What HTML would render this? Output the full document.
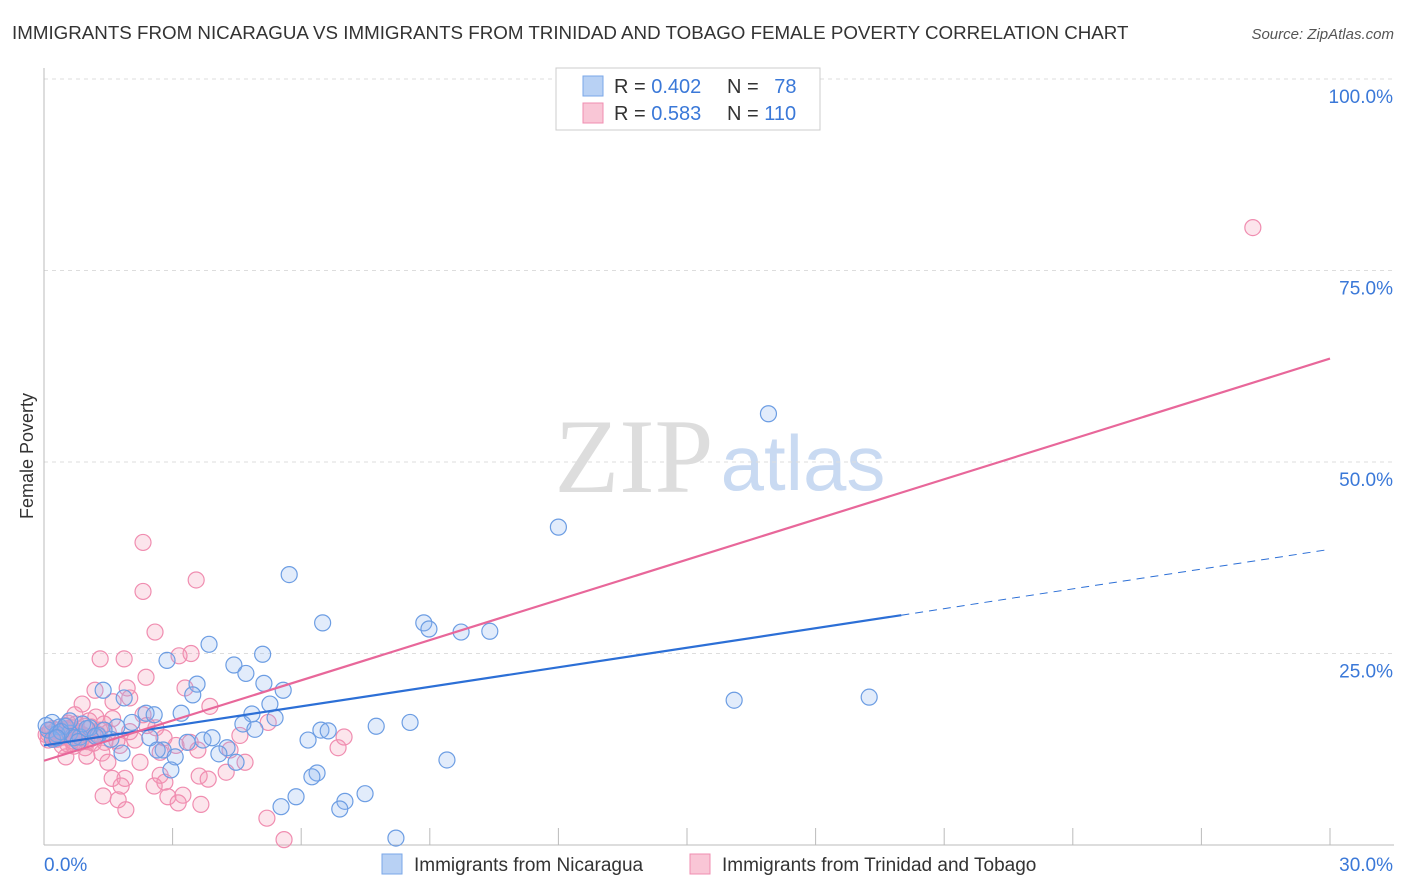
<!DOCTYPE html>
<html><head><meta charset="utf-8"><style>
body{margin:0;background:#fff;font-family:"Liberation Sans",sans-serif;}
svg{display:block}
</style></head><body>
<svg id="chart" width="1406" height="892" xmlns="http://www.w3.org/2000/svg">
<text x="12" y="39" font-size="18.75" fill="#333">IMMIGRANTS FROM NICARAGUA VS IMMIGRANTS FROM TRINIDAD AND TOBAGO FEMALE POVERTY CORRELATION CHART</text>
<text x="1394" y="39" font-size="15" fill="#555" font-style="italic" text-anchor="end">Source: ZipAtlas.com</text>
<g>
<text x="634" y="492" font-size="106" fill="#ddd" font-family="Liberation Serif,serif" text-anchor="middle">ZIP</text>
<text x="803" y="490" font-size="78" fill="#c9daf2" text-anchor="middle">atlas</text>
</g>
<g id="grid"></g>
<g id="marks"></g>
<text transform="translate(33,456) rotate(-90)" font-size="18" fill="#333" text-anchor="middle">Female Poverty</text>
<g>
<rect x="556" y="68" width="264" height="62" fill="#fff" stroke="#ccc"/>
<rect x="583" y="76" width="20" height="20" fill="#b8d1f4" stroke="#7aa7e8"/>
<rect x="583" y="103" width="20" height="20" fill="#f9c6d6" stroke="#f08db0"/>
<text x="614" y="93" font-size="20" fill="#333">R = <tspan fill="#3a78d8">0.402</tspan></text>
<text x="727" y="93" font-size="20" fill="#333">N = <tspan fill="#3a78d8" dx="10">78</tspan></text>
<text x="614" y="120" font-size="20" fill="#333">R = <tspan fill="#3a78d8">0.583</tspan></text>
<text x="727" y="120" font-size="20" fill="#333">N = <tspan fill="#3a78d8">110</tspan></text>
</g>
<g>
<rect x="382" y="854" width="20" height="20" fill="#b8d1f4" stroke="#7aa7e8"/>
<text x="414" y="871" font-size="19" fill="#333">Immigrants from Nicaragua</text>
<rect x="690" y="854" width="20" height="20" fill="#f9c6d6" stroke="#f08db0"/>
<text x="722" y="871" font-size="19" fill="#333">Immigrants from Trinidad and Tobago</text>
</g>
</svg>
<script>
const xTicks=[0,3,6,9,12,15,18,21,24,27,30];
const yTicks=[25,50,75,100];
const blueX=[16.9,12.0,5.72,6.5,8.86,8.98,9.73,10.4,3.85,5.1,2.87,4.43,4.71,5.13,3.57,5.58,3.47,1.38,1.87,16.1,19.25,5.27,4.85,2.38,2.57,3.2,5.39,4.64,2.05,8.54,7.75,6.46,6.63,4.92,1.7,1.07,0.37,0.19,0.6,0.84,1.26,1.56,2.47,3.71,3.92,3.34,6.16,4.27,2.78,2.64,1.82,4.08,4.48,3.06,9.4,2.96,6.37,6.25,7.49,7.02,5.88,5.53,6.9,8.21,0.1,0.3,0.5,0.7,0.9,0.2,0.4,1.0,1.2,0.05,0.6,0.8,1.4,0.3];
const blueY=[56.3,41.5,35.3,29.0,29.0,28.2,27.8,27.9,26.2,24.9,24.1,23.5,22.4,21.1,21.0,20.2,19.6,20.2,19.2,18.9,19.3,18.4,17.1,17.2,17.0,17.2,16.6,15.8,16.0,16.0,15.5,15.0,14.9,15.1,15.4,15.3,15.4,16.0,14.6,14.1,14.3,13.8,14.0,13.7,14.0,13.4,13.7,12.7,12.4,12.4,12.0,11.9,10.8,11.5,11.1,9.8,9.4,8.9,6.7,5.7,6.3,5.0,4.7,0.9,15.0,14.5,15.5,14.0,15.8,13.8,14.8,15.2,14.2,15.6,16.2,13.5,15.0,14.0];
const pinkX=[28.2,2.31,3.55,2.31,2.59,1.31,1.87,3.43,3.15,2.38,3.29,1.94,1.19,1.61,0.89,2.0,3.87,2.31,2.61,1.21,0.72,0.56,0.28,0.42,0.96,1.42,1.77,2.12,2.71,3.08,3.41,4.34,3.59,4.57,5.23,6.86,7.0,1.0,1.35,0.51,2.24,1.49,4.69,2.71,2.82,1.59,1.89,3.62,3.83,4.25,2.57,1.8,3.24,1.38,1.73,2.89,3.66,3.13,1.91,5.2,5.6,0.1,0.2,0.3,0.4,0.5,0.6,0.7,0.8,0.15,0.35,0.55,0.75,0.9,1.1,1.3,1.5,1.7,0.25,0.45,0.65,0.85,1.05,1.25,0.1,0.3,0.5,0.7,0.9,1.1,1.6,2.0,2.4,2.8,0.2,0.4,0.6,1.0,1.2,1.4,0.05,0.15,0.25,0.35,0.45,0.55,0.65,0.8,0.95,1.15];
const pinkY=[80.6,39.5,34.6,33.1,27.8,24.3,24.3,25.0,24.7,21.9,20.5,20.5,20.2,18.7,18.4,19.2,18.1,17.0,15.3,16.7,17.0,15.9,15.0,13.0,12.7,13.4,13.0,13.7,12.1,13.0,13.4,12.4,12.4,14.3,16.0,12.7,14.1,11.6,12.0,11.5,10.8,10.8,10.8,9.1,8.2,8.7,8.7,9.0,8.6,9.5,7.7,7.7,6.5,6.4,5.9,6.3,5.3,5.5,4.6,3.5,0.7,14.5,15.2,13.8,14.8,15.6,14.0,13.5,14.6,15.0,14.2,13.2,15.8,14.4,13.9,15.0,14.7,13.6,14.1,14.9,15.3,13.4,16.2,14.5,13.7,14.3,15.1,12.9,14.0,15.4,16.5,14.8,15.6,14.0,13.8,14.6,15.0,13.5,14.2,15.8,14.4,15.0,13.9,14.7,14.1,15.2,13.6,14.8,15.5,13.3];
const blueFit=[[0,13.0],[20,30.0],[30,38.6]];
const pinkFit=[[0,11.0],[30,63.5]];
const L=44,R=1330,T=79,B=845;
const sx=v=>L+(v/30)*(R-L);
const sy=v=>B-(v/100)*(B-T);
const NS="http://www.w3.org/2000/svg";
function mk(tag,attrs,parent){const e=document.createElementNS(NS,tag);for(const k in attrs)e.setAttribute(k,attrs[k]);parent.appendChild(e);return e;}
const grid=document.getElementById('grid'),marks=document.getElementById('marks');
yTicks.forEach(t=>{
 const g=mk('line',{x1:L,x2:1394,y1:sy(t),y2:sy(t),stroke:'#ddd','stroke-dasharray':'4,4'},grid);
 
 
 const tx=mk('text',{x:1393,y:sy(t)+24,'font-size':19,fill:'#3a78d8','text-anchor':'end'},grid);
 tx.textContent=t.toFixed(1)+'%';
 
 
});
mk('line',{x1:L,x2:L,y1:68,y2:B,stroke:'#bbb'},grid);
mk('line',{x1:L,x2:1394,y1:B,y2:B,stroke:'#bbb'},grid);
xTicks.forEach((t,i)=>{
 const l=mk('line',{x1:sx(t),x2:sx(t),y1:B,y2:828,stroke:'#bbb'},grid);
 
 
 if(i===0||i===xTicks.length-1){
  const tx=mk('text',{x:i===0?44:1393,y:871,'font-size':19,fill:'#3a78d8','text-anchor':i===0?'start':'end'},grid);
  tx.textContent=t.toFixed(1)+'%';
  
  
 }
});
pinkX.forEach((x,i)=>{
 const c=mk('circle',{cx:sx(x),cy:sy(pinkY[i]),r:8,fill:'rgba(245,150,180,0.25)',stroke:'#f08db0','stroke-width':1.2},marks);
 
 
});
blueX.forEach((x,i)=>{
 const c=mk('circle',{cx:sx(x),cy:sy(blueY[i]),r:8,fill:'rgba(140,180,240,0.25)',stroke:'#6c9de3','stroke-width':1.2},marks);
 
 
});
const bl=mk('line',{x1:sx(blueFit[0][0]),y1:sy(blueFit[0][1]),x2:sx(blueFit[1][0]),y2:sy(blueFit[1][1]),stroke:'#2c6fd6','stroke-width':2.2},marks);


const bd=mk('line',{x1:sx(blueFit[1][0]),y1:sy(blueFit[1][1]),x2:sx(blueFit[2][0]),y2:sy(blueFit[2][1]),stroke:'#2c6fd6','stroke-width':1,'stroke-dasharray':'8,6'},marks);


const pl=mk('line',{x1:sx(pinkFit[0][0]),y1:sy(pinkFit[0][1]),x2:sx(pinkFit[1][0]),y2:sy(pinkFit[1][1]),stroke:'#e8679a','stroke-width':2.2},marks);


</script>
</body></html>
